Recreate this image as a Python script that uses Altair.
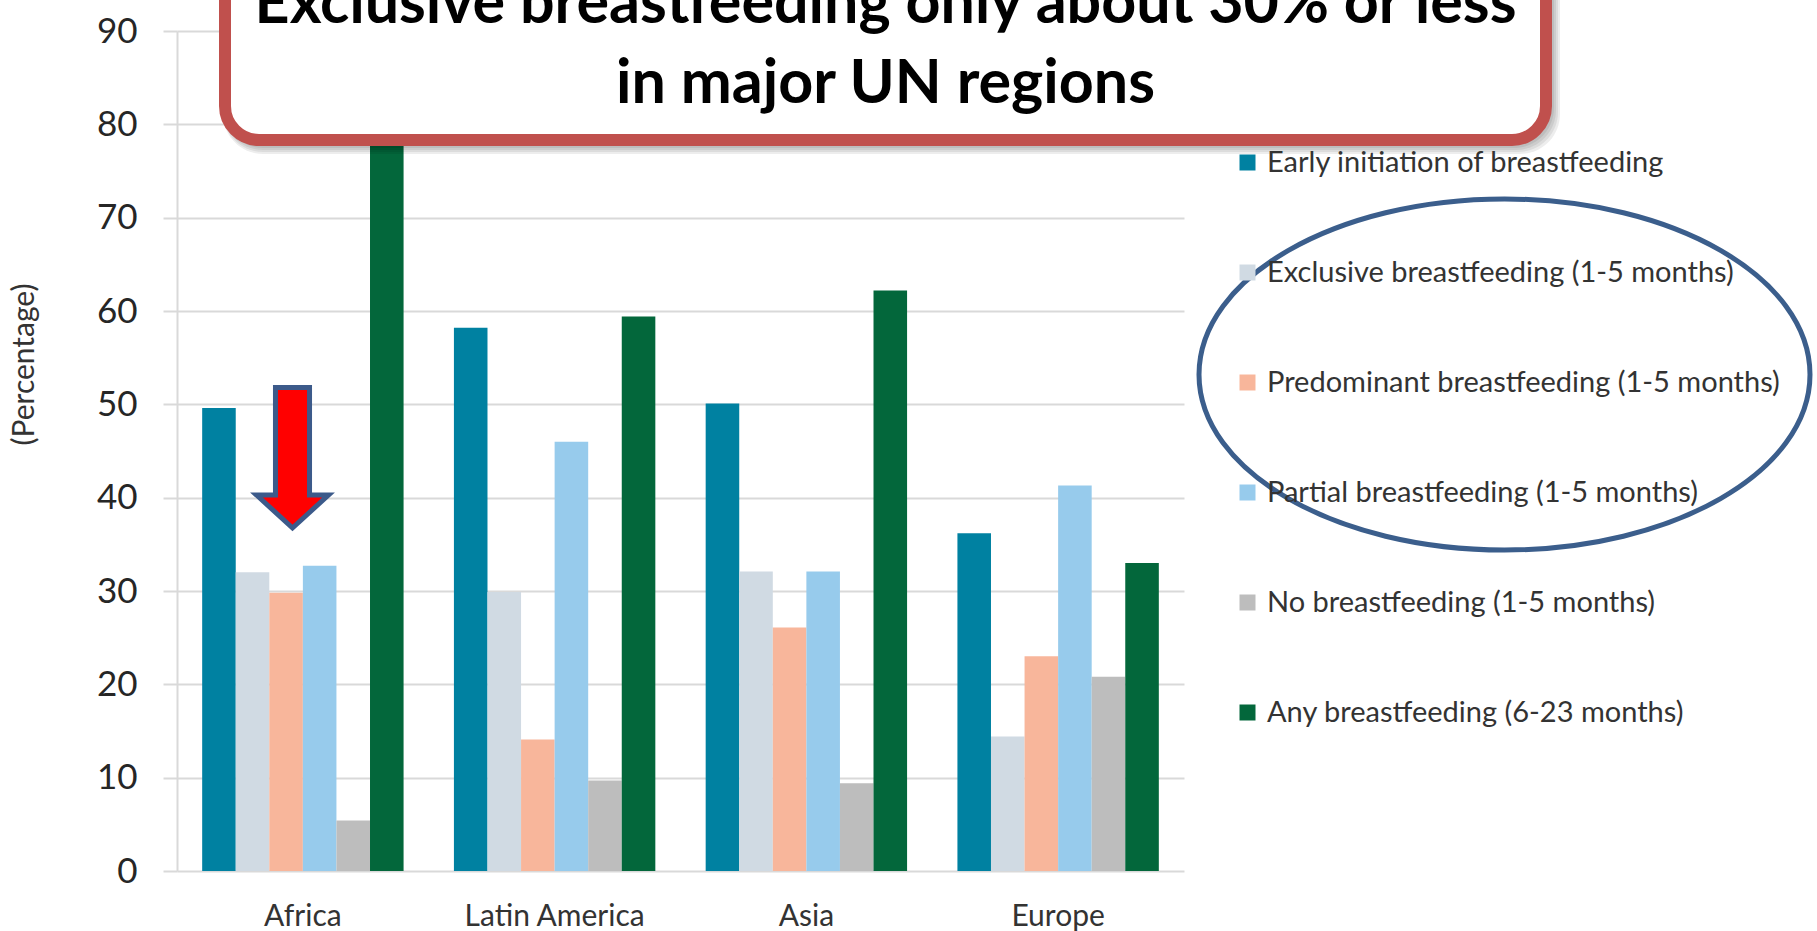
import altair as alt
import pandas as pd

# Regions on the x axis and the six breastfeeding indicators (percent)
regions = ["Africa", "Latin America", "Asia", "Europe"]
indicators = [
    "Early initiation of breastfeeding",
    "Exclusive breastfeeding (1-5 months)",
    "Predominant breastfeeding (1-5 months)",
    "Partial breastfeeding (1-5 months)",
    "No breastfeeding (1-5 months)",
    "Any breastfeeding (6-23 months)",
]
early_initiation = [49.6, 58.2, 50.1, 36.2]
exclusive_1_5 = [32.0, 29.9, 32.1, 14.4]
predominant_1_5 = [29.8, 14.1, 26.1, 23.0]
partial_1_5 = [32.7, 46.0, 32.1, 41.3]
no_bf_1_5 = [5.4, 9.7, 9.4, 20.8]
any_bf_6_23 = [79.0, 59.4, 62.2, 33.0]
y_ticks = [0, 10, 20, 30, 40, 50, 60, 70, 80, 90]

indicator_colors = ["#0081A1", "#D0DAE3", "#F8B69B", "#97CBEC", "#BDBDBD", "#03673B"]

title_lines = ["Exclusive breastfeeding only about 30% or less", "in major UN regions"]

series_values = [early_initiation, exclusive_1_5, predominant_1_5,
                 partial_1_5, no_bf_1_5, any_bf_6_23]
rows = []
for name, vals in zip(indicators, series_values):
    for region, v in zip(regions, vals):
        rows.append({"Region": region, "Indicator": name, "Value": v})
df = pd.DataFrame(rows)

# plot area geometry (pixels)
W, H = 1007, 840
PAD = {"left": 177, "top": 31, "right": 1817 - 177 - W, "bottom": 931 - 31 - H}
FONT = "Lato"

bars = alt.Chart(df).mark_bar().encode(
    x=alt.X("Region:N", sort=regions,
            scale=alt.Scale(paddingInner=0.2, paddingOuter=0.1),
            axis=alt.Axis(title=None, domain=False, ticks=False, grid=False,
                          labelAngle=0, labelFont=FONT, labelFontSize=30,
                          labelColor="#333333", labelPadding=30, labelLimit=400)),
    xOffset=alt.XOffset("Indicator:N", sort=indicators,
                        scale=alt.Scale(paddingInner=0, paddingOuter=0)),
    y=alt.Y("Value:Q", scale=alt.Scale(domain=[0, 90], nice=False),
            axis=alt.Axis(values=y_ticks, grid=True, gridColor="#D9D9D9", gridWidth=2,
                          tickSize=14, tickColor="#D9D9D9", tickWidth=2,
                          domainColor="#D9D9D9", domainWidth=2,
                          labelFont=FONT, labelFontSize=35, labelColor="#262626",
                          labelPadding=26,
                          title="(Percentage)", titleFont=FONT, titleFontSize=30,
                          titleFontWeight="normal", titleColor="#333333",
                          titleAngle=270, titleX=-153, titleY=333,
                          titleAlign="center", titleBaseline="middle")),
    color=alt.Color("Indicator:N", sort=indicators,
                    scale=alt.Scale(domain=indicators, range=indicator_colors),
                    legend=alt.Legend(orient="none", legendX=1056, legendY=117,
                                      title=None, symbolType="square", symbolSize=256,
                                      symbolStrokeWidth=0, labelFont=FONT,
                                      labelFontSize=29, labelColor="#333333",
                                      labelOffset=5, labelLimit=700,
                                      rowPadding=80, padding=0)),
)

one = pd.DataFrame({"k": [0]})

# soft shadow under the callout box
shadows = [
    alt.Chart(one).mark_rect(cornerRadius=40, fill="#000000", opacity=0.07).encode(
        x=alt.value(46), x2=alt.value(1375 + k),
        y=alt.value(-100), y2=alt.value(115 + k))
    for k in (2, 4, 6, 8)
]

callout = alt.Chart(one).mark_rect(
    cornerRadius=34, fill="white", stroke="#C0504D", strokeWidth=12
).encode(x=alt.value(48), x2=alt.value(1369), y=alt.value(-80), y2=alt.value(109))

title1 = alt.Chart(one).mark_text(
    text=title_lines[0], font=FONT, fontWeight="bold", fontSize=61,
    align="center", baseline="alphabetic", color="black"
).encode(x=alt.value(708.5), y=alt.value(-8))

title2 = alt.Chart(one).mark_text(
    text=title_lines[1], font=FONT, fontWeight="bold", fontSize=61,
    align="center", baseline="alphabetic", color="black"
).encode(x=alt.value(708.5), y=alt.value(72))

arrow_path = ("M -0.227 -0.94 L 0.227 -0.94 L 0.227 0.493 L 0.48 0.493 "
              "L 0 0.933 L -0.48 0.493 L -0.227 0.493 Z")
arrow = alt.Chart(one).mark_point(
    shape=arrow_path, size=22500, filled=True, fill="#FF0000",
    stroke="#3C5A8A", strokeWidth=5, opacity=1
).encode(x=alt.value(115.5), y=alt.value(427))

ellipse_path = "M -1 0 A 1 0.5745 0 1 0 1 0 A 1 0.5745 0 1 0 -1 0 Z"
ellipse = alt.Chart(one).mark_point(
    shape=ellipse_path, size=373321, filled=False,
    stroke="#3B5E8C", strokeWidth=5, opacity=1
).encode(x=alt.value(1327.5), y=alt.value(343.5))

chart = alt.layer(bars, *shadows, callout, title1, title2, arrow, ellipse).properties(
    width=W, height=H,
    autosize=alt.AutoSizeParams(type="none"),
    padding=PAD,
    background="white",
).configure_view(strokeWidth=0)

chart.save("out.html", embed_options={"renderer": "svg", "actions": False})
